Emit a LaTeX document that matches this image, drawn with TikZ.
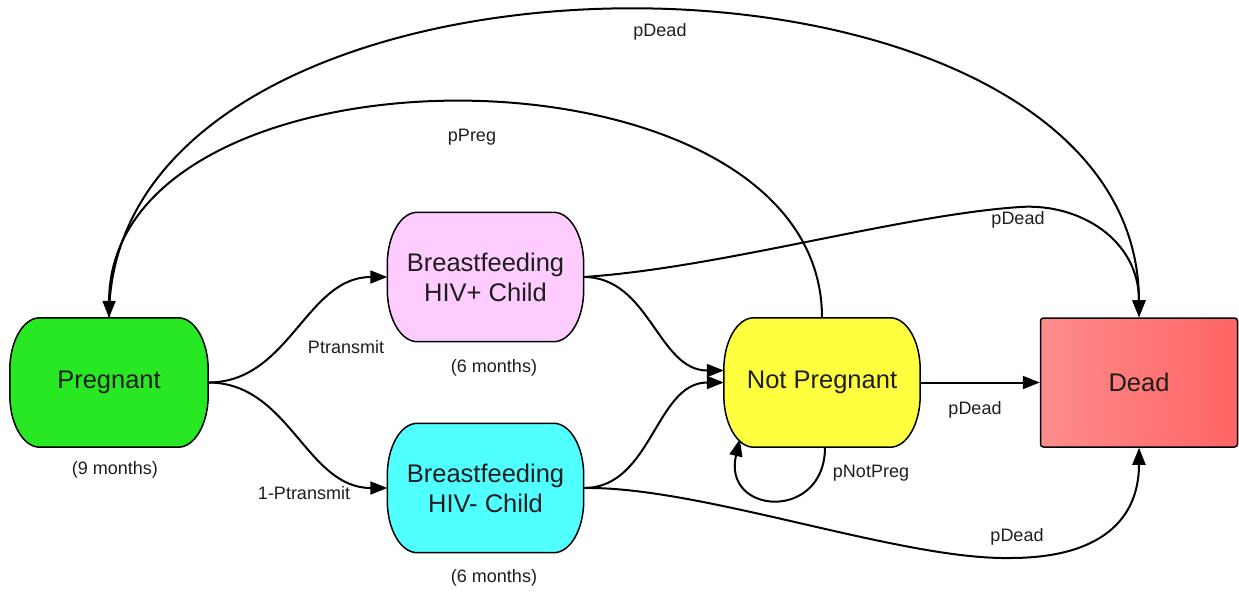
\documentclass[tikz,border=0pt]{standalone}
\usepackage{fontspec}
\setmainfont{Liberation Sans}
\usetikzlibrary{arrows.meta,backgrounds}

\definecolor{ink}{RGB}{30,30,30}
\definecolor{pregfill}{RGB}{40,232,36}
\definecolor{posfill}{RGB}{255,204,255}
\definecolor{negfill}{RGB}{80,255,255}
\definecolor{npfill}{RGB}{255,255,64}
\definecolor{deadleft}{RGB}{255,140,140}
\definecolor{deadright}{RGB}{255,100,100}

% outline of a state: straight edges, elliptic corners
\newcommand{\statebox}[2]{%
  \filldraw[statepath, fill=#2] ([xshift=30pt]#1.north west) -- ([xshift=-30pt]#1.north east)
    arc[start angle=90, end angle=0, x radius=30pt, y radius=52pt] -- ([yshift=52pt]#1.south east)
    arc[start angle=0, end angle=-90, x radius=30pt, y radius=52pt] -- ([xshift=30pt]#1.south west)
    arc[start angle=270, end angle=180, x radius=30pt, y radius=52pt] -- ([yshift=-52pt]#1.north west)
    arc[start angle=180, end angle=90, x radius=30pt, y radius=52pt] -- cycle;}

\begin{document}
\begin{tikzpicture}[x=1pt, y=1pt,
  state/.style={rectangle, inner sep=0pt, minimum width=196pt, minimum height=129pt,
    align=center, text=ink, font=\fontsize{25.5}{30}\selectfont},
  statepath/.style={draw=black, line width=1.5pt},
  flow/.style={draw=black, line width=2pt, -{Triangle[length=17pt, width=13pt]}},
  lbl/.style={inner sep=0pt, text=ink, font=\fontsize{18}{21}\selectfont}]
\useasboundingbox (0,0) rectangle (1239,-592);

\node[state, minimum width=198pt] (preg) at (109,-382.5) {Pregnant};
\node[state] (bfpos) at (485.5,-277) {Breastfeeding\\HIV+ Child};
\node[state] (bfneg) at (485.5,-488) {Breastfeeding\\HIV- Child};
\node[state] (notpreg) at (822,-382.5) {Not Pregnant};
\node[state, statepath, minimum width=197pt, rounded corners=3pt,
  left color=deadleft, right color=deadright] (dead) at (1139,-382.5) {Dead};

\begin{scope}[on background layer]
  \foreach \n/\c in {preg/pregfill, bfpos/posfill, bfneg/negfill, notpreg/npfill}
    {\statebox{\n}{\c}}
\end{scope}

\node[lbl] (lblpdeadtop) at (660,-32) {pDead};
\node[lbl] (lblppreg) at (472,-137) {pPreg};
\node[lbl] (lblpdeadmid) at (1018,-220) {pDead};
\node[lbl] (lbltransmit) at (346,-347) {Ptransmit};
\node[lbl] (lblnotransmit) at (304,-493) {1-Ptransmit};
\node[lbl] (lblninemonths) at (115,-470) {(9 months)};
\node[lbl] (lblsixpos) at (494,-368) {(6 months)};
\node[lbl] (lblsixneg) at (494,-578) {(6 months)};
\node[lbl] (lblpdeadnp) at (975,-410) {pDead};
\node[lbl] (lblpnotpreg) at (871,-473) {pNotPreg};
\node[lbl] (lblpdeadlow) at (1017,-537) {pDead};

\coordinate (pdeadpeak) at (1020,-207);
\coordinate (pdeadlow) at (1010,-558);
\coordinate (loopout) at ([xshift=3pt]notpreg.south);
\coordinate (loopin) at ([xshift=16pt, yshift=8pt]notpreg.south west);

\draw[flow] (preg.east) to[out=0, in=180] (bfpos.west);
\draw[flow] (preg.east) to[out=0, in=180] (bfneg.west);
\draw[flow] (bfpos.east) to[out=0, in=180] ([yshift=12pt]notpreg.west);
\draw[flow] (bfneg.east) to[out=0, in=180] (notpreg.west);
\draw[flow] (notpreg.east) -- (dead.west);
\draw[flow] (preg.north) .. controls (110,92) and (1138,92) .. (dead.north);
\draw[flow] (notpreg.north) .. controls (822,-31) and (110,-31) .. (preg.north);
\draw[flow] (bfpos.east) .. controls (720,-268) and (900,-215) .. (pdeadpeak)
  .. controls (1080,-203) and (1139,-240) .. (dead.north);
\draw[flow] (bfneg.east) .. controls (700,-486) and (900,-560) .. (pdeadlow)
  .. controls (1100,-558) and (1139,-520) .. (dead.south);
\draw[flow] (loopout) .. controls (825,-522) and (722,-515) .. (loopin);
\end{tikzpicture}
\end{document}
